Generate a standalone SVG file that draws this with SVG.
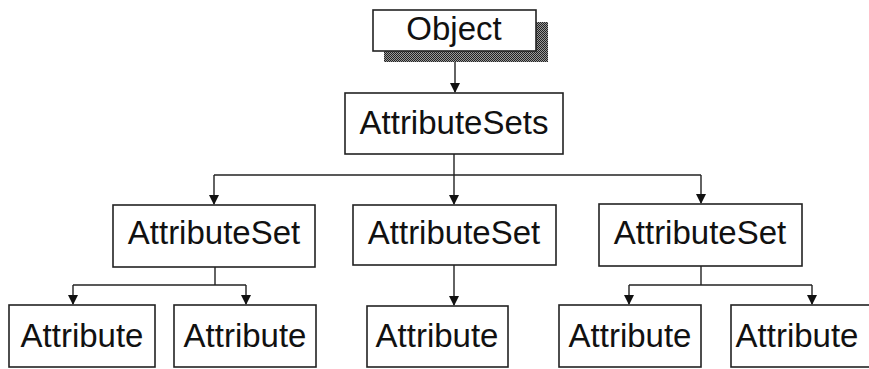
<svg xmlns="http://www.w3.org/2000/svg" width="869" height="369" viewBox="0 0 869 369">
<style>
.box{fill:#fff;stroke:#222;stroke-width:1.6}
.lbl{font-family:"Liberation Sans",Arial,sans-serif;font-size:33px;fill:#111;text-anchor:middle}
.ln{fill:none;stroke:#222;stroke-width:1.4}
</style>
<defs>
<pattern id="dots" width="2" height="2" patternUnits="userSpaceOnUse">
<rect width="2" height="2" fill="#999"/>
<rect width="1" height="1" fill="#222"/>
<rect x="1" y="1" width="1" height="1" fill="#222"/>
</pattern>
<marker id="arr" markerWidth="10" markerHeight="12" refX="9" refY="5" orient="auto" markerUnits="userSpaceOnUse" viewBox="0 0 10 10">
<path d="M0,0 L10,5 L0,10 Z" fill="#111"/>
</marker>
</defs>
<rect width="869" height="369" fill="#fff"/>
<g id="connectors">
<line class="ln" x1="455" y1="51" x2="455" y2="92" marker-end="url(#arr)"/>
<line class="ln" x1="454" y1="154" x2="454" y2="204" marker-end="url(#arr)"/>
<line class="ln" x1="214" y1="175" x2="701" y2="175"/>
<line class="ln" x1="214" y1="175" x2="214" y2="204" marker-end="url(#arr)"/>
<line class="ln" x1="701" y1="175" x2="701" y2="203" marker-end="url(#arr)"/>
<line class="ln" x1="215" y1="267" x2="215" y2="285"/>
<line class="ln" x1="73" y1="285" x2="246" y2="285"/>
<line class="ln" x1="73" y1="285" x2="73" y2="304" marker-end="url(#arr)"/>
<line class="ln" x1="246" y1="285" x2="246" y2="304" marker-end="url(#arr)"/>
<line class="ln" x1="454" y1="265" x2="454" y2="305" marker-end="url(#arr)"/>
<line class="ln" x1="701" y1="266" x2="701" y2="285"/>
<line class="ln" x1="629" y1="285" x2="812" y2="285"/>
<line class="ln" x1="629" y1="285" x2="629" y2="304" marker-end="url(#arr)"/>
<line class="ln" x1="812" y1="285" x2="812" y2="304" marker-end="url(#arr)"/>
</g>
<g id="object">
<rect x="384" y="22" width="164" height="40" fill="url(#dots)"/>
<rect class="box" x="373" y="10" width="163" height="41"/>
<text class="lbl" x="454" y="40">Object</text>
</g>
<g id="attributesets">
<rect class="box" x="345" y="93" width="218" height="61"/>
<text class="lbl" x="454" y="134">AttributeSets</text>
</g>
<g id="attributeset1">
<rect class="box" x="113" y="205" width="202" height="62"/>
<text class="lbl" x="214" y="244">AttributeSet</text>
</g>
<g id="attributeset2">
<rect class="box" x="353" y="205" width="203" height="60"/>
<text class="lbl" x="454" y="244">AttributeSet</text>
</g>
<g id="attributeset3">
<rect class="box" x="599" y="204" width="203" height="62"/>
<text class="lbl" x="700" y="244">AttributeSet</text>
</g>
<g id="attribute1">
<rect class="box" x="9" y="305" width="146" height="62"/>
<text class="lbl" x="82" y="347">Attribute</text>
</g>
<g id="attribute2">
<rect class="box" x="174" y="305" width="142" height="62"/>
<text class="lbl" x="245" y="347">Attribute</text>
</g>
<g id="attribute3">
<rect class="box" x="367" y="306" width="141" height="61"/>
<text class="lbl" x="437" y="347">Attribute</text>
</g>
<g id="attribute4">
<rect class="box" x="559" y="305" width="142" height="62"/>
<text class="lbl" x="630" y="347">Attribute</text>
</g>
<g id="attribute5">
<rect class="box" x="731" y="305" width="144" height="62"/>
<text class="lbl" x="797" y="347">Attribute</text>
</g>
</svg>
